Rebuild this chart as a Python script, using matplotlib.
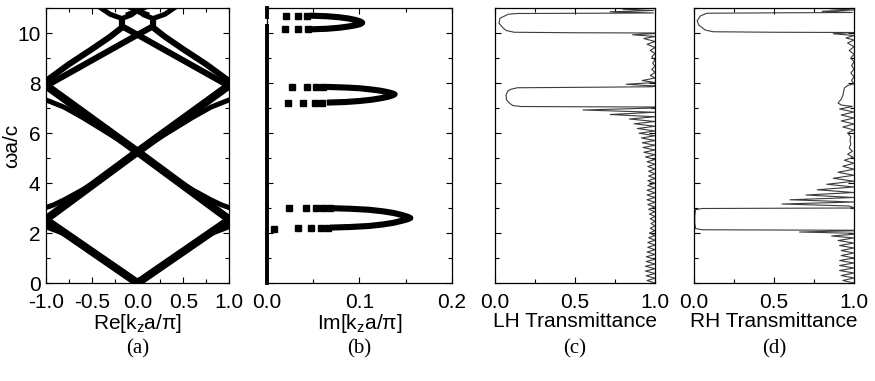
import matplotlib
matplotlib.use("Agg")
import matplotlib.pyplot as plt
from matplotlib.ticker import MultipleLocator

plt.rcParams["font.family"] = ["Liberation Sans", "DejaVu Sans"]
plt.rcParams["mathtext.fontset"] = "custom"
plt.rcParams["mathtext.rm"] = "Liberation Sans"
plt.rcParams["mathtext.default"] = "regular"

# ---- (a) band structure, Re[k_z a/pi] vs omega a/c ----
band_v_k = [-1.0, 0.0, 1.0]
band_v_w = [2.52, 0.0, 2.52]
band_up_k = [-1.0, 0.0, 1.0]
band_up_w = [2.55, 5.25, 7.9]
band_dn_k = [-1.0, 0.0, 1.0]
band_dn_w = [7.9, 5.25, 2.55]
band_top_k = [-1.0, 0.0, 0.17, 0.17]
band_top_w = [7.88, 9.93, 10.27, 10.55]
band_top2_k = [1.0, 0.0, -0.17, -0.17]
band_top2_w = [7.88, 9.93, 10.27, 10.55]
outer_l_k = [-1.0, -0.75, -0.5, -0.3, -0.17]
outer_l_w = [8.08, 8.75, 9.35, 9.85, 10.22]
outer_r_k = [1.0, 0.75, 0.5, 0.3, 0.17]
outer_r_w = [8.08, 8.75, 9.35, 9.85, 10.22]
low_l_k = [-1.0, -0.93, -0.8, -0.6, -0.45]
low_l_w = [2.25, 2.15, 1.97, 1.5, 1.13]
low_r_k = [1.0, 0.93, 0.8, 0.6, 0.45]
low_r_w = [2.25, 2.15, 1.97, 1.5, 1.13]
mid_l_k = [-1.0, -0.92, -0.8, -0.6, -0.4, -0.2]
mid_l_w = [3.02, 3.12, 3.33, 3.73, 4.18, 4.7]
mid_r_k = [1.0, 0.92, 0.8, 0.6, 0.4, 0.2]
mid_r_w = [3.02, 3.12, 3.33, 3.73, 4.18, 4.7]
hi_l_k = [-1.0, -0.95, -0.8, -0.6, -0.4, -0.2]
hi_l_w = [7.32, 7.25, 7.03, 6.62, 6.17, 5.72]
hi_r_k = [1.0, 0.95, 0.8, 0.6, 0.4, 0.2]
hi_r_w = [7.32, 7.25, 7.03, 6.62, 6.17, 5.72]
cap_k = [-0.42, -0.3, -0.17, -0.07, 0.0, 0.07, 0.17, 0.3, 0.42]
cap_w = [11.05, 10.75, 10.58, 10.72, 10.9, 10.72, 10.58, 10.75, 11.05]
cross_k = [-0.1, 0.0, 0.1]
cross_w = [10.75, 10.9, 11.05]
cross2_k = [0.1, 0.0, -0.1]
cross2_w = [10.75, 10.9, 11.05]

# ---- (b) Im[k_z a/pi] in the gaps ----
tongue1_im = [0.072, 0.09, 0.11, 0.125, 0.137, 0.146, 0.152, 0.155,
              0.152, 0.146, 0.137, 0.125, 0.11, 0.09, 0.072]
tongue1_w = [2.99, 2.97, 2.93, 2.87, 2.8, 2.72, 2.65, 2.6,
             2.55, 2.49, 2.41, 2.34, 2.28, 2.24, 2.22]
tongue1_dots_im = [0.024, 0.042, 0.053, 0.061, 0.068, 0.0075, 0.034, 0.048, 0.058, 0.066]
tongue1_dots_w = [3.0, 3.0, 3.0, 3.0, 3.0, 2.17, 2.2, 2.2, 2.2, 2.21]
tongue2_im = [0.068, 0.085, 0.1, 0.113, 0.123, 0.131, 0.136, 0.138,
              0.136, 0.131, 0.123, 0.113, 0.1, 0.085, 0.068]
tongue2_w = [7.84, 7.82, 7.79, 7.74, 7.69, 7.63, 7.58, 7.55,
             7.51, 7.45, 7.39, 7.33, 7.28, 7.24, 7.22]
tongue2_dots_im = [0.027, 0.043, 0.053, 0.061, 0.023, 0.039, 0.052, 0.06]
tongue2_dots_w = [7.85, 7.85, 7.85, 7.85, 7.21, 7.21, 7.21, 7.21]
tongue3_im = [0.05, 0.065, 0.078, 0.088, 0.096, 0.101, 0.103,
              0.101, 0.096, 0.088, 0.078, 0.065, 0.05]
tongue3_w = [10.69, 10.67, 10.63, 10.58, 10.52, 10.46, 10.41,
             10.36, 10.31, 10.26, 10.21, 10.17, 10.15]
tongue3_dots_im = [0.021, 0.034, 0.043, 0.02, 0.034, 0.044]
tongue3_dots_w = [10.69, 10.69, 10.69, 10.15, 10.15, 10.15]
real_band_w_lo = [0.0, 10.3]
real_band_w_hi = [10.65, 11.0]

# ---- (c) LH transmittance ----
lh_w = [0.0, 0.1, 0.19, 0.29, 0.38, 0.48, 0.57, 0.67, 0.76, 0.86, 0.95, 1.05, 1.14,
        1.24, 1.33, 1.43, 1.52, 1.62, 1.71, 1.81, 1.9, 2.0, 2.09, 2.19, 2.28, 2.38,
        2.47, 2.57, 2.66, 2.76, 2.85, 2.95, 3.04, 3.14, 3.23, 3.33, 3.42, 3.52, 3.61,
        3.71, 3.8, 3.9, 3.99, 4.09, 4.18, 4.28, 4.37, 4.47, 4.56, 4.66, 4.75, 4.85,
        4.94, 5.04, 5.13, 5.23, 5.32, 5.42, 5.51, 5.61, 5.7, 5.8, 5.89, 5.99, 6.08,
        6.18, 6.27, 6.37, 6.46, 6.56, 6.65, 6.74, 6.83, 6.92, 7.0,
        7.04, 7.05, 7.06, 7.1, 7.2, 7.32, 7.52, 7.68, 7.75, 7.81, 7.83, 7.85,
        7.88, 7.95, 8.02, 8.1, 8.2, 8.3, 8.42, 8.55, 8.67, 8.8, 8.92, 9.05, 9.18,
        9.3, 9.42, 9.55, 9.66, 9.78, 9.86, 9.93, 9.98,
        10.0, 10.01, 10.03, 10.1, 10.19, 10.39, 10.59, 10.75, 10.78, 10.79, 10.8,
        10.85, 10.9, 10.95, 11.0]
lh_t = [1.0, 0.95, 1.0, 0.945, 1.0, 0.94, 1.0, 0.94, 1.0, 0.945, 1.0, 0.945, 1.0,
        0.95, 1.0, 0.955, 1.0, 0.955, 1.0, 0.96, 1.0, 0.965, 1.0, 0.97, 1.0, 0.975,
        1.0, 0.97, 1.0, 0.965, 1.0, 0.96, 1.0, 0.955, 1.0, 0.95, 1.0, 0.95, 1.0,
        0.95, 1.0, 0.955, 1.0, 0.955, 1.0, 0.96, 1.0, 0.96, 1.0, 0.955, 1.0, 0.95,
        1.0, 0.94, 1.0, 0.93, 1.0, 0.925, 1.0, 0.92, 1.0, 0.915, 1.0, 0.9, 1.0,
        0.89, 1.0, 0.87, 1.0, 0.84, 1.0, 0.72, 1.0, 0.55, 1.0,
        1.0, 0.5, 0.16, 0.11, 0.09, 0.072, 0.069, 0.08, 0.1, 0.14, 0.6, 0.98,
        1.0, 0.82, 1.0, 0.92, 1.0, 0.97, 1.0, 0.98, 1.0, 0.985, 1.0, 0.98, 1.0,
        0.97, 1.0, 0.95, 1.0, 0.93, 1.0, 0.86, 1.0,
        1.0, 0.5, 0.12, 0.07, 0.052, 0.025, 0.031, 0.083, 0.14, 0.6, 0.99,
        0.72, 0.99, 0.8, 0.97]

# ---- (d) RH transmittance ----
rh_w = [0.0, 0.1, 0.2, 0.3, 0.4, 0.5, 0.6, 0.7, 0.8, 0.9, 1.0, 1.1, 1.2, 1.3,
        1.4, 1.5, 1.6, 1.7, 1.8, 1.88, 1.95, 1.99, 2.04, 2.09,
        2.11, 2.12, 2.13, 2.18, 2.4, 2.7, 2.93, 2.98, 2.99, 3.0,
        3.01, 3.08, 3.16, 3.24, 3.33, 3.42, 3.52, 3.62, 3.73, 3.84, 3.95, 4.07,
        4.19, 4.31, 4.43, 4.55, 4.67, 4.79, 4.91, 5.03, 5.15, 5.27, 5.4, 5.55,
        5.7, 5.85, 6.0, 6.12, 6.24, 6.36, 6.48, 6.6, 6.72, 6.84, 6.96, 7.06,
        7.12, 7.2, 7.35, 7.5, 7.65, 7.8, 7.9, 7.97,
        8.1, 8.25, 8.4, 8.55, 8.7, 8.85, 9.0, 9.15, 9.3, 9.45, 9.6, 9.72, 9.8,
        9.9, 9.97, 10.02,
        10.03, 10.05, 10.12, 10.32, 10.49, 10.68, 10.79, 10.81, 10.82,
        10.87, 10.92, 10.97, 11.0]
rh_t = [1.0, 0.93, 1.0, 0.92, 1.0, 0.91, 1.0, 0.91, 1.0, 0.91, 1.0, 0.92, 1.0, 0.92,
        1.0, 0.91, 1.0, 0.9, 1.0, 0.86, 1.0, 0.99, 0.66, 1.0,
        1.0, 0.5, 0.05, 0.01, 0.005, 0.005, 0.01, 0.05, 0.5, 1.0,
        1.0, 0.97, 0.55, 1.0, 0.6, 1.0, 0.7, 1.0, 0.77, 1.0, 0.83, 1.0,
        0.87, 1.0, 0.9, 1.0, 0.93, 1.0, 0.94, 0.995, 0.96, 0.99, 0.97, 0.98,
        0.975, 0.98, 0.96, 1.0, 0.93, 1.0, 0.92, 1.0, 0.92, 1.0, 0.91, 0.99,
        0.92, 0.9, 0.92, 0.93, 0.935, 0.94, 0.96, 1.0,
        0.985, 1.0, 0.98, 1.0, 0.985, 1.0, 0.98, 1.0, 0.97, 1.0, 0.96, 1.0, 0.95,
        1.0, 0.87, 1.0,
        0.5, 0.12, 0.07, 0.03, 0.02, 0.04, 0.08, 0.6, 0.99,
        0.8, 1.0, 0.85, 0.98]

fig = plt.figure(figsize=(8.75, 3.81), dpi=100)
bottom, height = 0.2572, 0.7218
ax_a = fig.add_axes([0.0526, bottom, 0.2091, height])
ax_b = fig.add_axes([0.3051, bottom, 0.2114, height])
ax_c = fig.add_axes([0.5657, bottom, 0.1829, height])
ax_d = fig.add_axes([0.7931, bottom, 0.1829, height])

thick = 5.8
thin = 3.6
for k, w, lw in [(band_v_k, band_v_w, thick), (band_up_k, band_up_w, thick),
                 (band_dn_k, band_dn_w, thick), (band_top_k, band_top_w, thin + 0.8),
                 (band_top2_k, band_top2_w, thin + 0.8), (outer_l_k, outer_l_w, thin + 0.8),
                 (outer_r_k, outer_r_w, thin + 0.8), (low_l_k, low_l_w, thin),
                 (low_r_k, low_r_w, thin), (mid_l_k, mid_l_w, thin),
                 (mid_r_k, mid_r_w, thin), (hi_l_k, hi_l_w, thin),
                 (hi_r_k, hi_r_w, thin), (cap_k, cap_w, thin),
                 (cross_k, cross_w, thin), (cross2_k, cross2_w, thin)]:
    ax_a.plot(k, w, color="black", lw=lw, solid_joinstyle="round")

for im, w in [(tongue1_im, tongue1_w), (tongue2_im, tongue2_w), (tongue3_im, tongue3_w)]:
    ax_b.plot(im, w, color="black", lw=4.4, solid_joinstyle="round")
for im, w in [(tongue1_dots_im, tongue1_dots_w), (tongue2_dots_im, tongue2_dots_w),
              (tongue3_dots_im, tongue3_dots_w)]:
    ax_b.plot(im, w, ls="none", marker="s", ms=3.8, color="black")
ax_b.plot([0, 0], real_band_w_lo, color="black", lw=2.8, clip_on=False)
ax_b.plot([0, 0], real_band_w_hi, color="black", lw=2.8, clip_on=False)

ax_c.plot(lh_t, lh_w, color="#3c3c3c", lw=0.8)
ax_d.plot(rh_t, rh_w, color="#3c3c3c", lw=0.8)

ax_a.set_xlim(-1, 1)
ax_a.set_xticks([-1, -0.5, 0, 0.5, 1])
ax_a.set_xticklabels(["-1.0", "-0.5", "0.0", "0.5", "1.0"])
ax_a.xaxis.set_minor_locator(MultipleLocator(0.25))
ax_b.set_xlim(0, 0.2)
ax_b.set_xticks([0, 0.1, 0.2])
ax_b.set_xticklabels(["0.0", "0.1", "0.2"])
ax_b.xaxis.set_minor_locator(MultipleLocator(0.05))
for ax in (ax_c, ax_d):
    ax.set_xlim(0, 1)
    ax.set_xticks([0, 0.5, 1])
    ax.set_xticklabels(["0.0", "0.5", "1.0"])
    ax.xaxis.set_minor_locator(MultipleLocator(0.25))

for ax in (ax_a, ax_b, ax_c, ax_d):
    ax.set_ylim(0, 11)
    ax.yaxis.set_major_locator(MultipleLocator(2))
    ax.yaxis.set_minor_locator(MultipleLocator(1))
    ax.tick_params(which="both", direction="in", top=True, right=True,
                   width=0.8, labelsize=15)
    ax.tick_params(axis="x", pad=7)
    ax.tick_params(axis="y", pad=4)
    ax.tick_params(which="major", length=4)
    ax.tick_params(which="minor", length=3)
    for s in ax.spines.values():
        s.set_linewidth(0.9)
for ax in (ax_b, ax_c, ax_d):
    ax.tick_params(labelleft=False)

ax_a.set_ylabel("ωa/c", fontsize=15)
ax_a.yaxis.set_label_coords(-0.135, 0.5)
ax_a.set_xlabel("Re[k$_z$a/π]", fontsize=15, labelpad=0)
ax_b.set_xlabel("Im[k$_z$a/π]", fontsize=15, labelpad=0)
ax_c.set_xlabel("LH Transmittance", fontsize=15, labelpad=0)
ax_d.set_xlabel("RH Transmittance", fontsize=15, labelpad=0)

for ax, tag in [(ax_a, "(a)"), (ax_b, "(b)"), (ax_c, "(c)"), (ax_d, "(d)")]:
    pos = ax.get_position()
    fig.text(pos.x0 + pos.width / 2, 0.085, tag, ha="center", va="center",
             fontsize=15, family=["Liberation Serif", "DejaVu Serif"])

fig.savefig("out.png", dpi=100)
